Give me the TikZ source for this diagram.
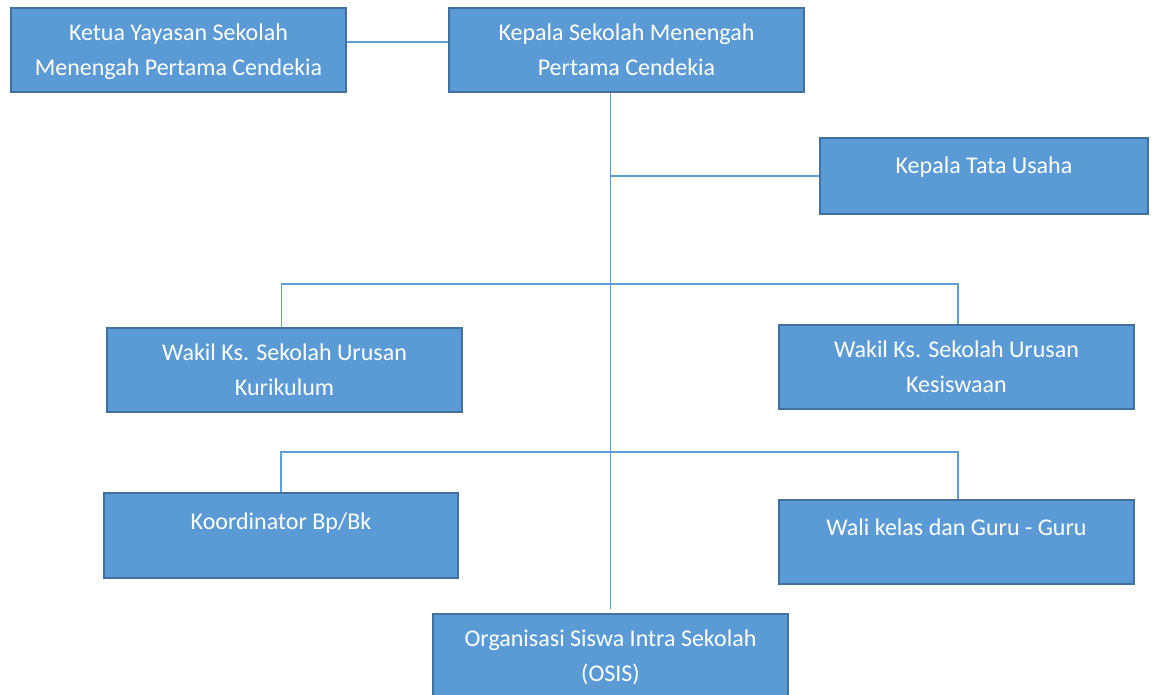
\documentclass[tikz,border=0pt]{standalone}
\usepackage{fontspec}
\setmainfont{Carlito}
\usepackage{tikz}
\usetikzlibrary{calc}

\definecolor{boxfill}{HTML}{5B9BD5}
\definecolor{boxline}{HTML}{41719C}
\definecolor{linkline}{HTML}{5F9DD6}

\begin{document}
\begin{tikzpicture}[x=1pt,y=-1pt,
		orgbox/.style={rectangle,draw=boxline,line width=2pt,fill=boxfill,text=white,
			font=\fontsize{24}{35}\selectfont,align=center,inner sep=0pt,text depth=-4pt},
		textdp/.style={text depth=#1},
		link/.style={draw=linkline,line width=1.3pt}]
			\useasboundingbox (0,0) rectangle (1154,695);
			\clip (0,0) rectangle (1154,695);
			\node [orgbox,minimum width=335,minimum height=84] (ketua) at (178.5,50) {Ketua Yayasan Sekolah\\Menengah Pertama Cendekia};
			\node [orgbox,minimum width=355,minimum height=84] (kepsek) at (626.5,50) {Kepala Sekolah Menengah\\Pertama Cendekia};
			\node [orgbox,minimum width=328,minimum height=76,textdp=21pt] (tu) at (984,176) {Kepala Tata Usaha};
			\node [orgbox,minimum width=355,minimum height=84] (wkur) at (284.5,370) {Wakil Ks. Sekolah Urusan\\Kurikulum};
			\node [orgbox,minimum width=355,minimum height=84] (wkes) at (956.5,367) {Wakil Ks. Sekolah Urusan\\Kesiswaan};
			\node [orgbox,minimum width=354,minimum height=85,textdp=29pt] (bk) at (281,535.5) {Koordinator Bp/Bk};
			\node [orgbox,minimum width=355,minimum height=84,textdp=29pt] (wali) at (956.5,542) {Wali kelas dan Guru - Guru};
			\node [orgbox,minimum width=355,minimum height=84] (osis) at (610.5,656) {Organisasi Siswa Intra Sekolah\\(OSIS)};
			\coordinate (br1) at (610,284);
			\coordinate (br2) at (610,452);
			\draw [link] ([yshift=8pt]ketua.east) -- ([yshift=8pt]kepsek.west);
			\draw [link] (osis.north |- kepsek.south) -- ([yshift=4pt]osis.north);
			\draw [link] (tu.west) -- (tu.west -| osis.north);
			\draw [link] ([xshift=-3pt]wkur.north) |- (br1) -| ([xshift=1.5pt]wkes.north);
			\draw [link] (bk.north) |- (br2) -| ([xshift=1.5pt]wali.north);
		\end{tikzpicture}
\end{document}
